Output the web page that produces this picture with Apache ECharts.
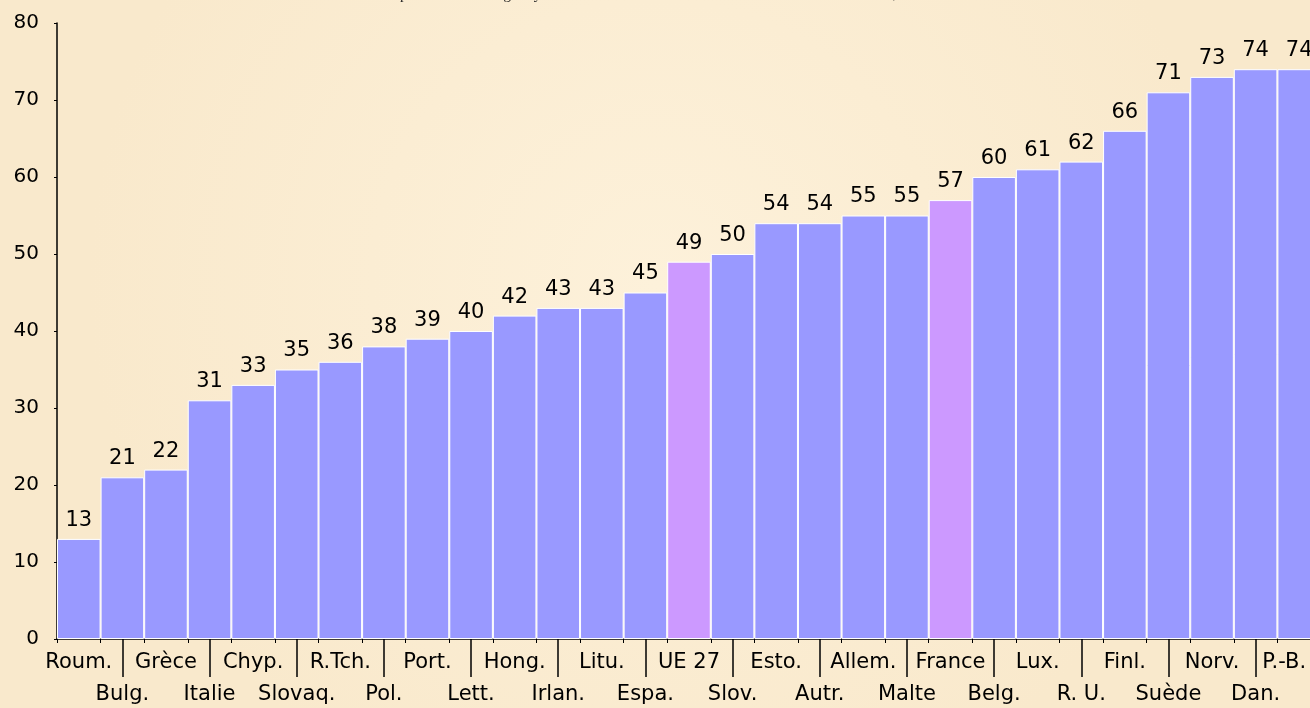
<!DOCTYPE html>
<html lang="fr">
<head>
    <meta charset="UTF-8">
    <title>Haut débit</title>
    <script src="https://cdn.jsdelivr.net/npm/echarts@6/dist/echarts.min.js"></script>
    <style>
        *{
            margin: 0;
            padding: 0;
        }
        html,body{
            width: 100%;
            height: 100%;
        }
        .main{
            width: 1310px;
            height: 708px;
        }
    </style>
</head>
<body>
<div class="main"></div>
<script>
    const countries = ['Roum.', 'Bulg.', 'Grèce', 'Italie', 'Chyp.', 'Slovaq.', 'R.Tch.', 'Pol.', 'Port.', 'Lett.',
        'Hong.', 'Irlan.', 'Litu.', 'Espa.', 'UE 27', 'Slov.', 'Esto.', 'Autr.', 'Allem.', 'Malte',
        'France', 'Belg.', 'Lux.', 'R. U.', 'Finl.', 'Suède', 'Norv.', 'Dan.', 'P.-B.'];
    const values = [13, 21, 22, 31, 33, 35, 36, 38, 39, 40,
        42, 43, 43, 45, 49, 50, 54, 54, 55, 55,
        57, 60, 61, 62, 66, 71, 73, 74, 74];
    const highlighted = ['UE 27', 'France'];
    const yTicks = [0, 10, 20, 30, 40, 50, 60, 70, 80];

    let main = echarts.init(document.getElementsByClassName('main')[0]);
    const font = '"DejaVu Sans", Verdana, sans-serif';

    let data = values.map((v, i) => ({
        value: v,
        itemStyle: {color: highlighted.includes(countries[i]) ? '#cc99ff' : '#9999ff'}
    }));

    // le dernier libellé est décalé pour rester dans le cadre
    let categoryData = countries.map((c, i) => i === countries.length - 1
        ? {value: c, textStyle: {padding: [0, 30, 0, 0]}}
        : c);

    let option = {
        backgroundColor: new echarts.graphic.RadialGradient(0.5, 0.4, 0.8, [{
            offset: 0,
            color: '#fdf1da'
        }, {
            offset: 1,
            color: '#f9e9cc'
        }]),
        title: {
            text: 'Proportion des ménages ayant une connexion internet à haut débit à domicile en 2008, en %',
            left: 'center',
            top: -17,
            textStyle: {
                fontFamily: '"Liberation Serif", serif',
                fontWeight: 'normal',
                fontSize: 15,
                color: '#222'
            }
        },
        grid: {
            left: 57,
            width: 1264,
            top: 23,
            bottom: 69,
            containLabel: false,
            outerBoundsMode: 'none'
        },
        xAxis: [{
            type: 'category',
            data: categoryData,
            axisLine: {lineStyle: {color: '#000', width: 1.5}},
            axisTick: {show: true, length: 4, lineStyle: {color: '#000'}},
            axisLabel: {
                interval: 0,
                color: '#000',
                fontFamily: font,
                fontSize: 21,
                lineHeight: 32,
                margin: 8,
                formatter: function (value, index) {
                    return index % 2 ? '\n' + value : value;
                }
            }
        }, {
            type: 'category',
            data: countries,
            position: 'bottom',
            axisLine: {show: false},
            axisLabel: {show: false},
            axisTick: {
                show: true,
                alignWithLabel: true,
                length: 38,
                interval: function (index) {
                    return index % 2 === 1;
                },
                lineStyle: {color: '#000', width: 1.5}
            }
        }],
        yAxis: {
            type: 'value',
            min: yTicks[0],
            max: yTicks[yTicks.length - 1],
            interval: 10,
            splitLine: {show: false},
            axisLine: {show: true, lineStyle: {color: '#000', width: 1.5}},
            axisTick: {show: true, length: 3, lineStyle: {color: '#000'}},
            axisLabel: {
                color: '#000',
                fontFamily: font,
                fontSize: 20,
                margin: 18
            }
        },
        series: [{
            type: 'bar',
            data: data,
            barCategoryGap: 0,
            itemStyle: {borderColor: '#fff', borderWidth: 1},
            label: {
                show: true,
                position: 'top',
                distance: 8,
                color: '#000',
                fontFamily: font,
                fontSize: 21
            }
        }]
    };
    main.setOption(option);
</script>
</body>
</html>
